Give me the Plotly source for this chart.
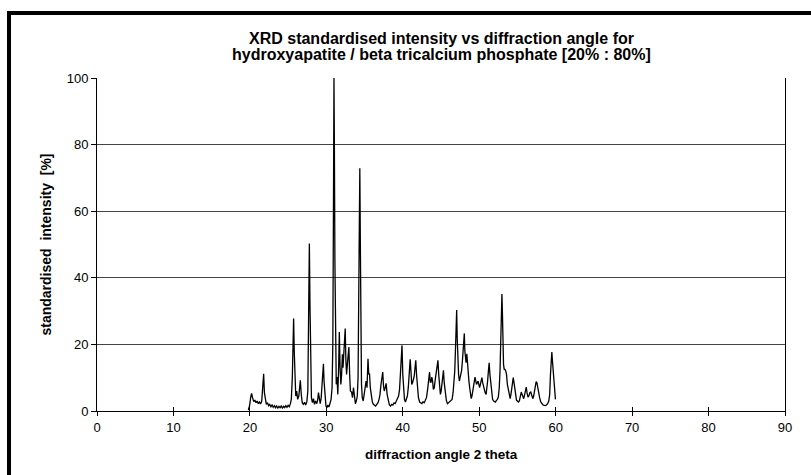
import plotly.graph_objects as go

# ---- data (2-theta in degrees, standardised intensity in %) ----
angle = (
    [19.80, 19.95, 20.10, 20.22, 20.35, 20.50, 20.65, 20.80, 20.95, 21.10, 21.25, 21.40, 21.55, 21.68, 21.80, 21.90, 22.02, 22.15, 22.30, 22.45]
    + [22.60, 22.75, 22.90, 23.05, 23.20, 23.35, 23.50, 23.65, 23.80, 23.95, 24.10, 24.25, 24.40, 24.55, 24.70, 24.85, 25.00, 25.15, 25.30]
    + [25.42, 25.55, 25.65, 25.72, 25.80, 25.90, 26.00, 26.12, 26.25, 26.40, 26.52, 26.60, 26.72, 26.85, 27.00, 27.15, 27.30, 27.45, 27.58]
    + [27.68, 27.78, 27.86, 27.95, 28.05, 28.18, 28.32, 28.45, 28.60, 28.75, 28.88, 28.97, 29.08, 29.20, 29.32, 29.45, 29.55, 29.62, 29.70, 29.82]
    + [29.95, 30.07, 30.20, 30.35, 30.50, 30.62, 30.75, 30.85, 30.93, 31.00, 31.05, 31.12, 31.20, 31.30, 31.40, 31.50]
    + [31.60, 31.70, 31.80, 31.90, 32.00, 32.10, 32.18, 32.28, 32.38, 32.47, 32.56, 32.65, 32.75, 32.85, 32.95, 33.05, 33.15, 33.30, 33.42, 33.55]
    + [33.68, 33.80, 33.92, 34.05, 34.15, 34.25, 34.32, 34.38, 34.45, 34.52, 34.60, 34.70, 34.82, 34.95, 35.07]
    + [35.20, 35.32, 35.45, 35.55, 35.65, 35.75, 35.88, 36.02, 36.15, 36.30, 36.45, 36.60, 36.75, 36.90]
    + [37.02, 37.15, 37.27, 37.38, 37.48, 37.58, 37.70, 37.82, 37.95, 38.10, 38.25, 38.40, 38.55, 38.70, 38.85]
    + [39.00, 39.15, 39.30, 39.45, 39.58, 39.70, 39.80, 39.90, 40.00, 40.10, 40.22, 40.35, 40.48, 40.60]
    + [40.72, 40.85, 40.97, 41.07, 41.17, 41.28, 41.40, 41.50, 41.60, 41.70, 41.80, 41.92, 42.05, 42.20]
    + [42.35, 42.50, 42.65, 42.80, 42.95, 43.10, 43.25, 43.38, 43.50, 43.60, 43.70, 43.80, 43.90, 44.00]
    + [44.12, 44.25, 44.38, 44.50, 44.60, 44.70, 44.80, 44.92, 45.02, 45.12, 45.22, 45.32, 45.42, 45.55, 45.70, 45.85]
    + [46.00, 46.15, 46.30, 46.45, 46.58, 46.70, 46.80, 46.90, 46.98, 47.05, 47.12, 47.20, 47.30, 47.40, 47.50]
    + [47.60, 47.70, 47.80, 47.90, 47.98, 48.05, 48.12, 48.20, 48.28, 48.38, 48.46, 48.55, 48.65, 48.75, 48.85, 48.95, 49.05]
    + [49.15, 49.25, 49.35, 49.45, 49.55, 49.65, 49.75, 49.85, 49.95, 50.05, 50.15, 50.25, 50.35, 50.45, 50.55, 50.65, 50.78, 50.90]
    + [51.00, 51.10, 51.20, 51.30, 51.40, 51.50, 51.62, 51.75, 51.88, 52.00, 52.12, 52.25, 52.38, 52.50, 52.62]
    + [52.72, 52.82, 52.90, 52.97, 53.03, 53.10, 53.18, 53.27, 53.37, 53.47, 53.57, 53.68, 53.80, 53.92, 54.05]
    + [54.15, 54.25, 54.35, 54.45, 54.55, 54.65, 54.75, 54.88, 55.00, 55.12, 55.25, 55.38, 55.50, 55.60, 55.70, 55.82, 55.95]
    + [56.05, 56.15, 56.25, 56.38, 56.50, 56.62, 56.75, 56.88, 57.00, 57.12, 57.25, 57.35, 57.45, 57.55, 57.65, 57.78]
    + [57.90, 58.05, 58.20, 58.35, 58.50, 58.65, 58.80, 58.95, 59.10, 59.22, 59.32, 59.42, 59.50, 59.58, 59.68, 59.78, 59.88, 59.97]
)

intensity = (
    [0.3, 1.5, 4.0, 5.3, 4.0, 2.8, 3.3, 2.5, 3.0, 2.2, 2.7, 2.1, 3.0, 6.5, 11.2, 5.5, 3.0, 2.0, 2.5, 1.6]
    + [2.0, 1.3, 1.8, 1.1, 1.6, 1.0, 1.5, 0.9, 1.4, 1.0, 1.5, 0.9, 1.4, 1.0, 1.6, 1.1, 1.7, 1.3, 2.2]
    + [3.5, 10.0, 24.0, 27.8, 18.0, 7.0, 4.5, 6.0, 3.5, 4.5, 7.5, 9.2, 5.0, 2.5, 2.0, 2.6, 1.8, 2.8, 6.0]
    + [24.0, 50.3, 32.0, 9.0, 4.0, 2.5, 3.7, 2.0, 3.0, 2.2, 3.5, 5.5, 3.0, 2.2, 3.8, 8.0, 12.0, 14.2, 9.0, 3.5]
    + [1.5, 1.0, 1.8, 1.2, 2.2, 3.5, 7.0, 20.0, 60.0, 100.0, 81.0, 45.0, 18.0, 8.0, 10.2, 5.0]
    + [12.0, 23.7, 13.0, 8.0, 11.0, 17.0, 13.0, 19.0, 22.0, 24.8, 15.0, 11.0, 14.0, 17.5, 19.2, 11.0, 6.0, 5.7, 4.0, 7.0]
    + [3.5, 2.2, 3.0, 4.5, 10.0, 35.0, 58.0, 72.9, 50.0, 20.0, 8.0, 4.0, 3.0, 5.0, 6.5]
    + [9.0, 7.0, 15.7, 11.0, 11.3, 7.0, 4.0, 2.7, 2.0, 1.7, 1.5, 2.0, 2.4, 3.5]
    + [5.0, 8.0, 10.5, 11.7, 7.5, 6.0, 7.0, 8.3, 5.0, 3.0, 1.8, 1.5, 2.0, 1.8, 2.4]
    + [2.2, 3.0, 3.6, 4.5, 6.5, 12.0, 16.0, 19.7, 11.0, 6.0, 3.5, 2.7, 3.5, 4.5]
    + [7.0, 12.0, 15.5, 12.0, 8.0, 8.5, 9.5, 10.5, 13.0, 15.2, 11.0, 7.0, 4.0, 2.7]
    + [2.4, 2.2, 2.8, 2.5, 3.2, 4.0, 6.5, 9.5, 11.7, 8.7, 8.7, 10.2, 9.0, 6.5]
    + [7.0, 9.5, 12.0, 14.0, 15.2, 11.0, 9.0, 5.0, 6.0, 9.0, 11.0, 12.2, 8.5, 5.5, 3.2, 2.2]
    + [2.5, 2.8, 3.0, 3.5, 5.5, 8.2, 12.0, 19.0, 25.0, 30.3, 22.0, 16.0, 11.0, 9.0, 10.0]
    + [11.5, 12.2, 15.0, 19.0, 21.0, 23.3, 18.0, 14.5, 14.5, 17.2, 14.0, 12.0, 9.0, 7.0, 5.0, 3.7, 4.5]
    + [6.0, 8.2, 9.0, 10.2, 9.0, 8.0, 8.5, 9.0, 8.0, 7.0, 8.0, 9.5, 10.0, 8.5, 7.5, 6.0, 5.5, 5.0]
    + [6.5, 9.0, 12.0, 14.5, 11.0, 9.0, 5.5, 3.5, 3.0, 2.8, 2.7, 3.2, 3.5, 4.2, 7.0]
    + [12.0, 21.0, 28.0, 35.1, 30.0, 20.0, 14.0, 12.5, 12.5, 12.0, 11.0, 8.0, 6.5, 4.5, 3.7]
    + [5.0, 7.2, 8.5, 10.0, 8.5, 7.0, 5.0, 3.2, 3.0, 2.7, 3.0, 4.0, 5.7, 5.0, 4.2, 3.7, 5.0]
    + [6.5, 7.2, 5.5, 4.2, 4.5, 5.5, 5.7, 4.5, 3.7, 4.5, 6.5, 7.5, 8.8, 8.5, 7.0, 6.2]
    + [4.0, 2.7, 2.2, 1.8, 1.7, 1.6, 1.8, 2.2, 3.0, 5.0, 11.0, 16.0, 17.7, 15.0, 12.0, 7.0, 5.0, 3.5]
)
assert len(angle) == len(intensity)

x_ticks = [0, 10, 20, 30, 40, 50, 60, 70, 80, 90]
y_ticks = [0, 20, 40, 60, 80, 100]

title_lines = ["XRD standardised intensity vs diffraction angle for",
               "hydroxyapatite / beta tricalcium phosphate [20% : 80%]"]
x_title = "diffraction angle 2 theta"
y_title = "standardised  intensity  [%]"

FONT = "Arial, Liberation Sans, sans-serif"

fig = go.Figure()
fig.add_trace(go.Scatter(x=angle, y=intensity, mode="lines",
                         line=dict(color="black", width=1.3),
                         showlegend=False, hoverinfo="skip"))
# dummy trace on the overlay axis so the inward ticks are drawn
fig.add_trace(go.Scatter(x=[0, 90], y=[0, 0], xaxis="x2", mode="lines",
                         line=dict(color="rgba(0,0,0,0)"), showlegend=False,
                         hoverinfo="skip"))

L, R, T, B = 97, 26, 78, 64
W, H = 811, 475
pw, ph = W - L - R, H - T - B


def px_x(px):
    return (px - L) / pw


def px_y(py):
    return (H - B - py) / ph


annotations = [
    dict(text="<b>" + title_lines[0] + "</b>", xref="paper", yref="paper",
         x=px_x(441), y=px_y(38), xanchor="center", yanchor="middle",
         showarrow=False, font=dict(family=FONT, size=16)),
    dict(text="<b>" + title_lines[1] + "</b>", xref="paper", yref="paper",
         x=px_x(441), y=px_y(55), xanchor="center", yanchor="middle",
         showarrow=False, font=dict(family=FONT, size=16)),
    dict(text="<b>" + x_title + "</b>", xref="paper", yref="paper",
         x=0.5, y=px_y(455), xanchor="center", yanchor="middle",
         showarrow=False, font=dict(family=FONT, size=13.5)),
    dict(text="<b>" + y_title + "</b>", xref="paper", yref="paper",
         x=px_x(45), y=0.5, xanchor="center", yanchor="middle",
         textangle=-90, showarrow=False, font=dict(family=FONT, size=14)),
]

fig.update_layout(
    width=W, height=H,
    margin=dict(l=L, r=R, t=T, b=B),
    paper_bgcolor="white", plot_bgcolor="white",
    font=dict(family=FONT, size=13, color="black"),
    xaxis=dict(range=[0, 90], tickvals=x_ticks, ticks="outside", ticklen=4,
               tickcolor="black", showline=True, linecolor="black", linewidth=1,
               showgrid=False, zeroline=False, tickfont=dict(size=13),
               fixedrange=True),
    xaxis2=dict(range=[0, 90], tickvals=x_ticks, ticks="inside", ticklen=4,
                tickcolor="black", overlaying="x", side="bottom",
                showticklabels=False, showgrid=False, zeroline=False,
                showline=False, fixedrange=True),
    yaxis=dict(range=[0, 100], tickvals=y_ticks, ticks="outside", ticklen=5,
               tickcolor="black", showline=True, linecolor="black", linewidth=1,
               mirror=True, showgrid=True, gridcolor="#444444", gridwidth=1,
               zeroline=False, tickfont=dict(size=13), fixedrange=True),
    annotations=annotations,
    shapes=[
        dict(type="rect", xref="paper", yref="paper",
             x0=px_x(9), x1=px_x(815), y0=px_y(479), y1=px_y(13),
             line=dict(color="black", width=4), layer="above"),
    ],
)

fig.write_html("out.html",
               config={"displayModeBar": False},
               post_script="document.body.style.margin='0';document.body.style.overflow='hidden';")
